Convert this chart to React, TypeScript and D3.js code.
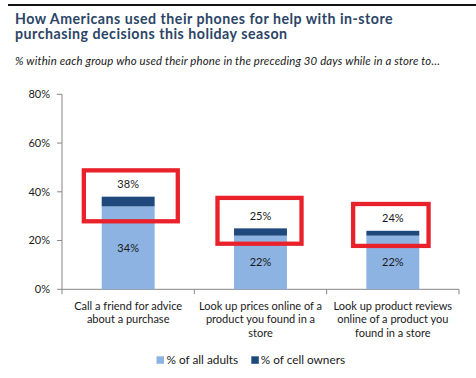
import React from "react";
import * as d3 from "d3";

const titleLines = ["How Americans used their phones for help with in-store", "purchasing decisions this holiday season"];
const subtitle = "% within each group who used their phone in the preceding 30 days while in a store to…";
const categories = [
  ["Call a friend for advice", "about a purchase"],
  ["Look up prices online of a", "product you found in a", "store"],
  ["Look up product reviews", "online of a product you", "found in a store"],
];
const allAdults = [34, 22, 22];
const cellOwners = [38, 25, 24];
const yTicks = [0, 20, 40, 60, 80];
const seriesNames = ["% of all adults", "% of cell owners"];
// annotation boxes: [x offset from band center start, end] (band fraction) and [low%, high%]
const boxX = [[-0.335, 0.375], [-0.325, 0.31], [-0.30, 0.27]];
const boxY = [[27.9, 48.8], [18.7, 37.5], [17.8, 35.0]];

const W = 476, H = 378;
const LIGHT = "#8db3e2", DARK = "#1f497d", AXIS = "#868686", TXT = "#1a1a1a";
const FONT = "Lato, 'Open Sans', sans-serif";

export default function App() {
  const x = d3.scaleBand<number>().domain(d3.range(categories.length)).range([62, 459]).paddingInner(0).paddingOuter(0);
  const y = d3.scaleLinear().domain([0, 80]).range([289.3, 94.3]);
  const bw = x.bandwidth() * 0.4;
  return (
    <svg width={W} height={H} style={{ position: "absolute", left: 0, top: 0, background: "#fff" }} fontFamily={FONT}>
      <line x1={8} x2={W} y1={5} y2={5} stroke="#111" strokeWidth={2} />
      {titleLines.map((l, i) => (
        <text key={i} x={15} y={23.5 + i * 15.5} fontSize={14.2} fontWeight={700} fill="#2b4566" letterSpacing={0.5}>{l}</text>
      ))}
      <text x={15} y={65} fontSize={11.4} fontStyle="italic" fill={TXT} letterSpacing={0.15}>{subtitle}</text>

      {/* y axis */}
      <line x1={62} x2={62} y1={y(80)} y2={y(0)} stroke={AXIS} />
      {yTicks.map((t) => (
        <g key={t}>
          <line x1={57} x2={62} y1={y(t)} y2={y(t)} stroke={AXIS} />
          <text x={50} y={y(t)} dy="0.35em" textAnchor="end" fontSize={11} fill={TXT}>{t}%</text>
        </g>
      ))}
      {/* x axis */}
      <line x1={62} x2={459} y1={y(0)} y2={y(0)} stroke={AXIS} />
      {d3.range(categories.length + 1).map((i) => {
        const xx = 62 + i * x.step();
        return <line key={i} x1={xx} x2={xx} y1={y(0)} y2={y(0) + 5} stroke={AXIS} />;
      })}

      {categories.map((c, i) => {
        const cx = (x(i) as number) + x.bandwidth() / 2;
        return (
          <g key={i}>
            <rect x={cx - bw / 2} width={bw} y={y(allAdults[i])} height={y(0) - y(allAdults[i])} fill={LIGHT} />
            <rect x={cx - bw / 2} width={bw} y={y(cellOwners[i])} height={y(allAdults[i]) - y(cellOwners[i])} fill={DARK} />
            <text x={cx} y={(y(0) + y(allAdults[i])) / 2} dy="0.35em" textAnchor="middle" fontSize={11} fill={TXT}>{allAdults[i]}%</text>
            <text x={cx} y={y(cellOwners[i]) - 12.5} dy="0.35em" textAnchor="middle" fontSize={11} fill={TXT}>{cellOwners[i]}%</text>
            {c.map((l, j) => (
              <text key={j} x={cx} y={306 + j * 13.5} dy="0.35em" textAnchor="middle" fontSize={11} fill={TXT}>{l}</text>
            ))}
            <rect
              x={cx + boxX[i][0] * x.bandwidth()}
              width={(boxX[i][1] - boxX[i][0]) * x.bandwidth()}
              y={y(boxY[i][1])}
              height={y(boxY[i][0]) - y(boxY[i][1])}
              fill="none" stroke="#e8212a" strokeWidth={4.3}
            />
          </g>
        );
      })}

      {/* legend */}
      <rect x={156.5} y={356.3} width={7.5} height={7.5} fill={LIGHT} />
      <text x={166.5} y={360} dy="0.35em" fontSize={11.8} fill={TXT}>{seriesNames[0]}</text>
      <rect x={251.3} y={356.3} width={7.5} height={7.5} fill={DARK} />
      <text x={260.7} y={360} dy="0.35em" fontSize={11.8} fill={TXT}>{seriesNames[1]}</text>
    </svg>
  );
}
